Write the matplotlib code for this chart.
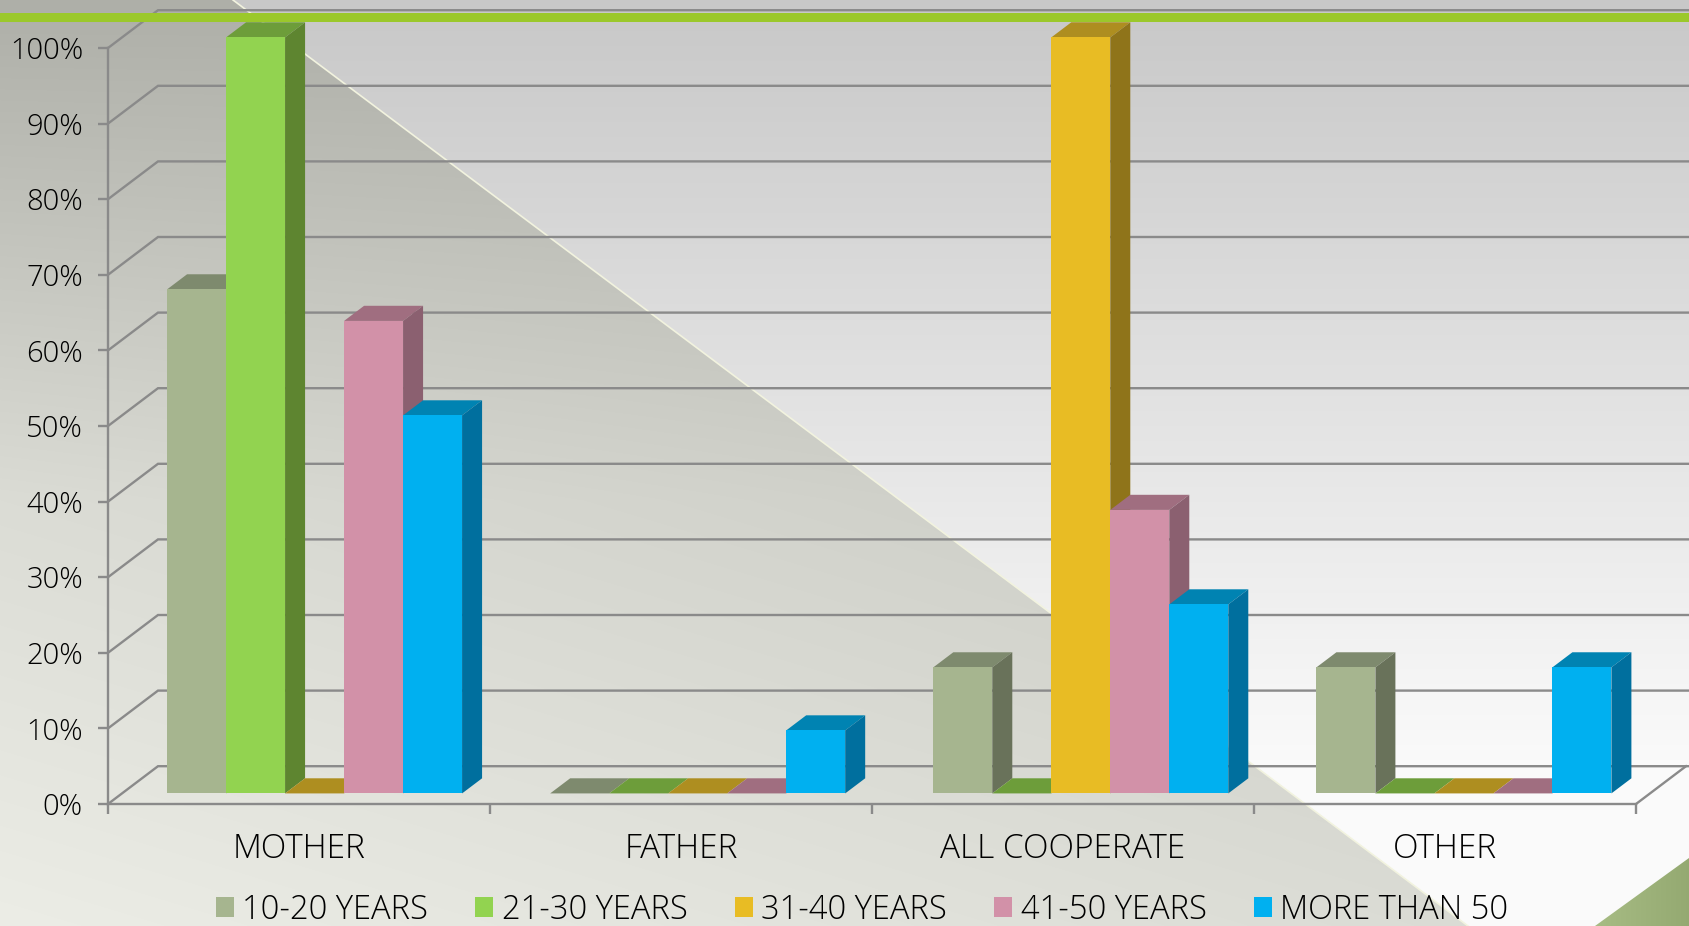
import numpy as np
import matplotlib
matplotlib.use("Agg")
import matplotlib.pyplot as plt
from matplotlib.patches import Patch, Polygon, Rectangle

plt.rcParams['font.family'] = ['Open Sans', 'DejaVu Sans']
plt.rcParams['font.weight'] = 'light'

# Data
categories = ['MOTHER', 'FATHER', 'ALL COOPERATE', 'OTHER']
series_names = ['10-20 YEARS', '21-30 YEARS', '31-40 YEARS', '41-50 YEARS', 'MORE THAN 50']
values_10_20 = [66.67, 0, 16.67, 16.67]
values_21_30 = [100, 0, 0, 0]
values_31_40 = [0, 0, 100, 0]
values_41_50 = [62.5, 0, 37.5, 0]
values_over_50 = [50, 8.33, 25, 16.67]
all_values = [values_10_20, values_21_30, values_31_40, values_41_50, values_over_50]

# front, top, side
front_colors = ['#A6B58F', '#92D350', '#E8BC24', '#D291A8', '#00B0F0']
top_colors = ['#7E8A6E', '#6D9D3A', '#AE8E20', '#A06E80', '#0083B2']
side_colors = ['#69725A', '#5E8530', '#8F741A', '#8B6070', '#006F9E']

W, H = 1689, 926
fig = plt.figure(figsize=(W / 100, H / 100), dpi=100)

# Background, in pixel coordinates
bg = fig.add_axes([0, 0, 1, 1], zorder=-1)
bg.set_xlim(0, W)
bg.set_ylim(H, 0)
bg.axis('off')
yy, xx = np.mgrid[0:H, 0:W]
base = 200 + 50 * np.clip(yy / 760, 0, 1)
bg.imshow(np.dstack([base, base, base]).astype(np.uint8), extent=(0, W, H, 0), aspect='auto')

shade = np.interp(yy, [0, 500, 800, 926], [174, 219, 231, 236]) - 0.012 * xx * np.clip(yy / 500, 0, 1)
shade_img = np.dstack([shade, shade + 1, shade - 6]).astype(np.uint8)
im = bg.imshow(shade_img, extent=(0, W, H, 0), aspect='auto')
tri = Polygon([(0, 0), (233, 0), (1468, 926), (0, 926)], transform=bg.transData, fc='none', ec='none')
bg.add_patch(tri)
im.set_clip_path(tri)
bg.plot([233, 1468], [0, 926], color='#F2F3DF', lw=1.2)

corner = np.clip(167 - 0.2 * (xx - 1595), 0, 255)
corner_img = np.dstack([corner, corner + 21, corner - 35]).astype(np.uint8)
im2 = bg.imshow(corner_img, extent=(0, W, H, 0), aspect='auto')
corner_tri = Polygon([(1595, 926), (1689, 858), (1689, 926)], transform=bg.transData, fc='none', ec='none')
bg.add_patch(corner_tri)
im2.set_clip_path(corner_tri)
bg.set_xlim(0, W)
bg.set_ylim(H, 0)

# Chart axes: front plane of the 3D box
ax = fig.add_axes([108 / W, (H - 804) / H, (1636 - 108) / W, (804 - 48) / H])
ax.patch.set_alpha(0)
ax.set_xlim(0, 4)
ax.set_ylim(0, 100)

depth_x = 50 / 382   # wall depth in category units
depth_y = 5.0        # wall depth in percent units
grid_c = '#8A8A8A'


def proj(x, y, d):
    return x + d * depth_x, y + d * depth_y


# walls and floor
for v in range(0, 101, 10):
    x0, y0 = proj(0, v, 0)
    x1, y1 = proj(0, v, 1)
    x2, y2 = proj(4.02, v, 1)
    ax.plot([x0, x1, x2], [y0, y1, y2], color=grid_c, lw=1.7, clip_on=False,
            solid_joinstyle='miter', zorder=1)
x0, y0 = proj(4, 0, 0)
x1, y1 = proj(4, 0, 1)
ax.plot([x0, x1], [y0, y1], color=grid_c, lw=1.7, clip_on=False, zorder=1)

# bars
bar_w = 59 / 382
start = 0.118
group_step = 1.0029
d_front = 0.28
d_back = 0.68
order = 2
for i in range(len(categories)):
    for k, vals in enumerate(all_values):
        v = vals[i]
        left = i * group_step + start + k * bar_w
        right = left + bar_w
        top_face = [proj(left, v, d_front), proj(right, v, d_front),
                    proj(right, v, d_back), proj(left, v, d_back)]
        ax.add_patch(Polygon(top_face, fc=top_colors[k], ec='none', clip_on=False, zorder=order))
        if v > 0:
            side_face = [proj(right, 0, d_front), proj(right, v, d_front),
                         proj(right, v, d_back), proj(right, 0, d_back)]
            ax.add_patch(Polygon(side_face, fc=side_colors[k], ec='none', clip_on=False, zorder=order))
            fx, fy = proj(left, 0, d_front)
            ax.bar(fx, v, bar_w, bottom=fy, align='edge', color=front_colors[k],
                   clip_on=False, zorder=order + 0.5)
        order += 1

# axes styling
for name in ['top', 'right']:
    ax.spines[name].set_visible(False)
for name in ['left', 'bottom']:
    ax.spines[name].set_color(grid_c)
    ax.spines[name].set_linewidth(1.7)
ax.set_axisbelow(True)
ax.set_yticks(range(0, 101, 10))
ax.set_yticklabels([f'{v}%' for v in range(0, 101, 10)])
ax.set_xticks(np.arange(4) + 0.5)
ax.set_xticklabels(categories)
ax.set_xticks(range(5), minor=True)
ax.tick_params(axis='y', length=7, width=1.7, color=grid_c, labelsize=21, pad=11, labelcolor='#000000')
ax.tick_params(axis='x', which='major', length=0, labelsize=24, pad=20.5, labelcolor='#000000')
ax.tick_params(axis='x', which='minor', length=7, width=1.7, color=grid_c)

handles = [Patch(facecolor=c, label=n) for c, n in zip(front_colors, series_names)]
fig.legend(handles=handles, ncol=5, loc='center', bbox_to_anchor=(862 / W, (H - 910) / H),
           frameon=False, fontsize=23.5, handlelength=0.55, handleheight=0.55,
           handletextpad=0.26, columnspacing=1.45, labelcolor='#000000', borderpad=0)

# green band on top of everything
fig.add_artist(Rectangle((0, (H - 22) / H), 1, 9 / H, transform=fig.transFigure,
                         fc='#9BC82B', ec='none', zorder=5))

fig.savefig('out.png', dpi=100)
